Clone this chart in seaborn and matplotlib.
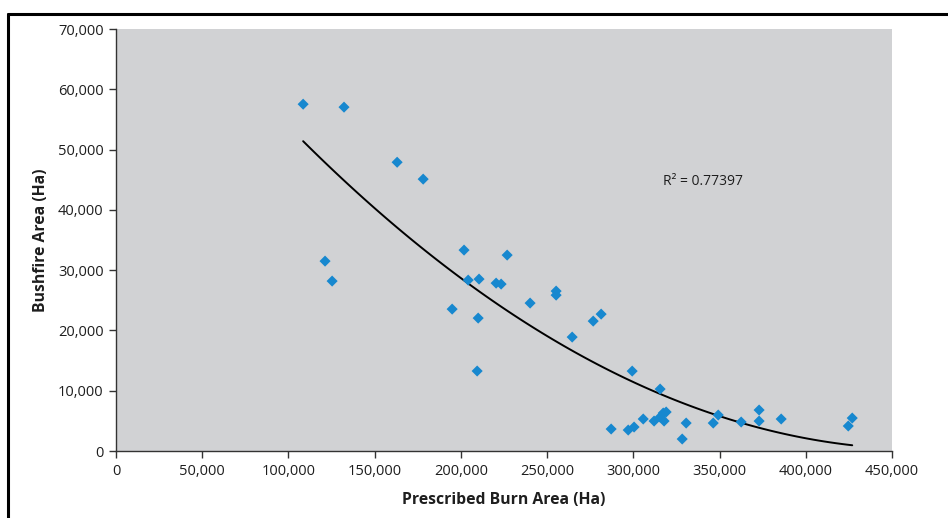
import matplotlib
matplotlib.use("Agg")
import matplotlib.pyplot as plt
from matplotlib.lines import Line2D
from matplotlib.ticker import FuncFormatter
import seaborn as sns
import pandas as pd

# prescribed burn area vs bushfire area (Ha)
burn_area = [108500, 132200, 163000, 178100, 121200, 125300, 201800, 204200,
             210500, 220400, 223300, 194900, 210000, 209400, 226800, 240100,
             255200, 255200, 276700, 281300, 264500, 299300, 315500, 287100,
             297000, 300400, 305700, 312000, 315500, 317300, 319000, 317800,
             328300, 330600, 346300, 349200, 362500, 372900, 372900, 385700,
             424600, 426900]
fire_area = [57530, 57040, 47900, 45100, 31500, 28190, 33330, 28350,
             28520, 27850, 27690, 23540, 22050, 13270, 32500, 24540,
             26530, 25860, 21550, 22710, 18900, 13260, 10280, 3650,
             3480, 3980, 5310, 4970, 5640, 6300, 6470, 4970,
             1990, 4640, 4640, 5970, 4810, 6800, 4970, 5310,
             4150, 5470]

x_ticks = [0, 50000, 100000, 150000, 200000, 250000, 300000, 350000, 400000, 450000]
y_ticks = [0, 10000, 20000, 30000, 40000, 50000, 60000, 70000]
r2_label = "R\u00b2 = 0.77397"

df = pd.DataFrame({"burn": burn_area, "fire": fire_area})

sns.set_theme(style="ticks")
plt.rcParams["font.family"] = ["Open Sans", "DejaVu Sans"]

fig = plt.figure(figsize=(9.48, 5.18), dpi=100)
ax = fig.add_axes([0.1224, 0.1293, 0.8186, 0.8147])
ax.set_facecolor("#d1d2d4")

sns.regplot(data=df, x="burn", y="fire", order=2, ci=None, truncate=True, ax=ax,
            marker="D",
            scatter_kws={"s": 32, "color": "#1788cf", "alpha": 1,
                         "edgecolors": "none", "zorder": 3},
            line_kws={"color": "black", "lw": 1.4, "zorder": 2})

ax.set_xlim(0, 450000)
ax.set_ylim(0, 70000)
ax.set_xticks(x_ticks)
ax.set_yticks(y_ticks)
fmt = FuncFormatter(lambda v, p: f"{int(v):,}")
ax.xaxis.set_major_formatter(fmt)
ax.yaxis.set_major_formatter(fmt)
ax.tick_params(axis="both", direction="out", length=5, width=1, color="#333333",
               labelsize=10.5, labelcolor="#1e1e1e", pad=4)

for side in ["top", "right"]:
    ax.spines[side].set_visible(False)
for side in ["left", "bottom"]:
    ax.spines[side].set_color("#333333")
    ax.spines[side].set_linewidth(1)

ax.set_xlabel("Prescribed Burn Area (Ha)", fontsize=11.3, fontweight="bold",
              color="#1e1e1e", labelpad=10)
ax.set_ylabel("Bushfire Area (Ha)", fontsize=11.3, fontweight="bold",
              color="#1e1e1e", labelpad=6)

ax.text(317000, 44770, r2_label, fontsize=10, color="#1e1e1e", va="center", ha="left")

# outer frame, only top and left edges are visible in the crop
fig.add_artist(Line2D([0.008, 1.0], [0.973, 0.973], transform=fig.transFigure,
                      color="black", lw=2.2))
fig.add_artist(Line2D([0.008, 0.008], [0.0, 0.973], transform=fig.transFigure,
                      color="black", lw=2.2))

fig.savefig("out.png", dpi=100)
